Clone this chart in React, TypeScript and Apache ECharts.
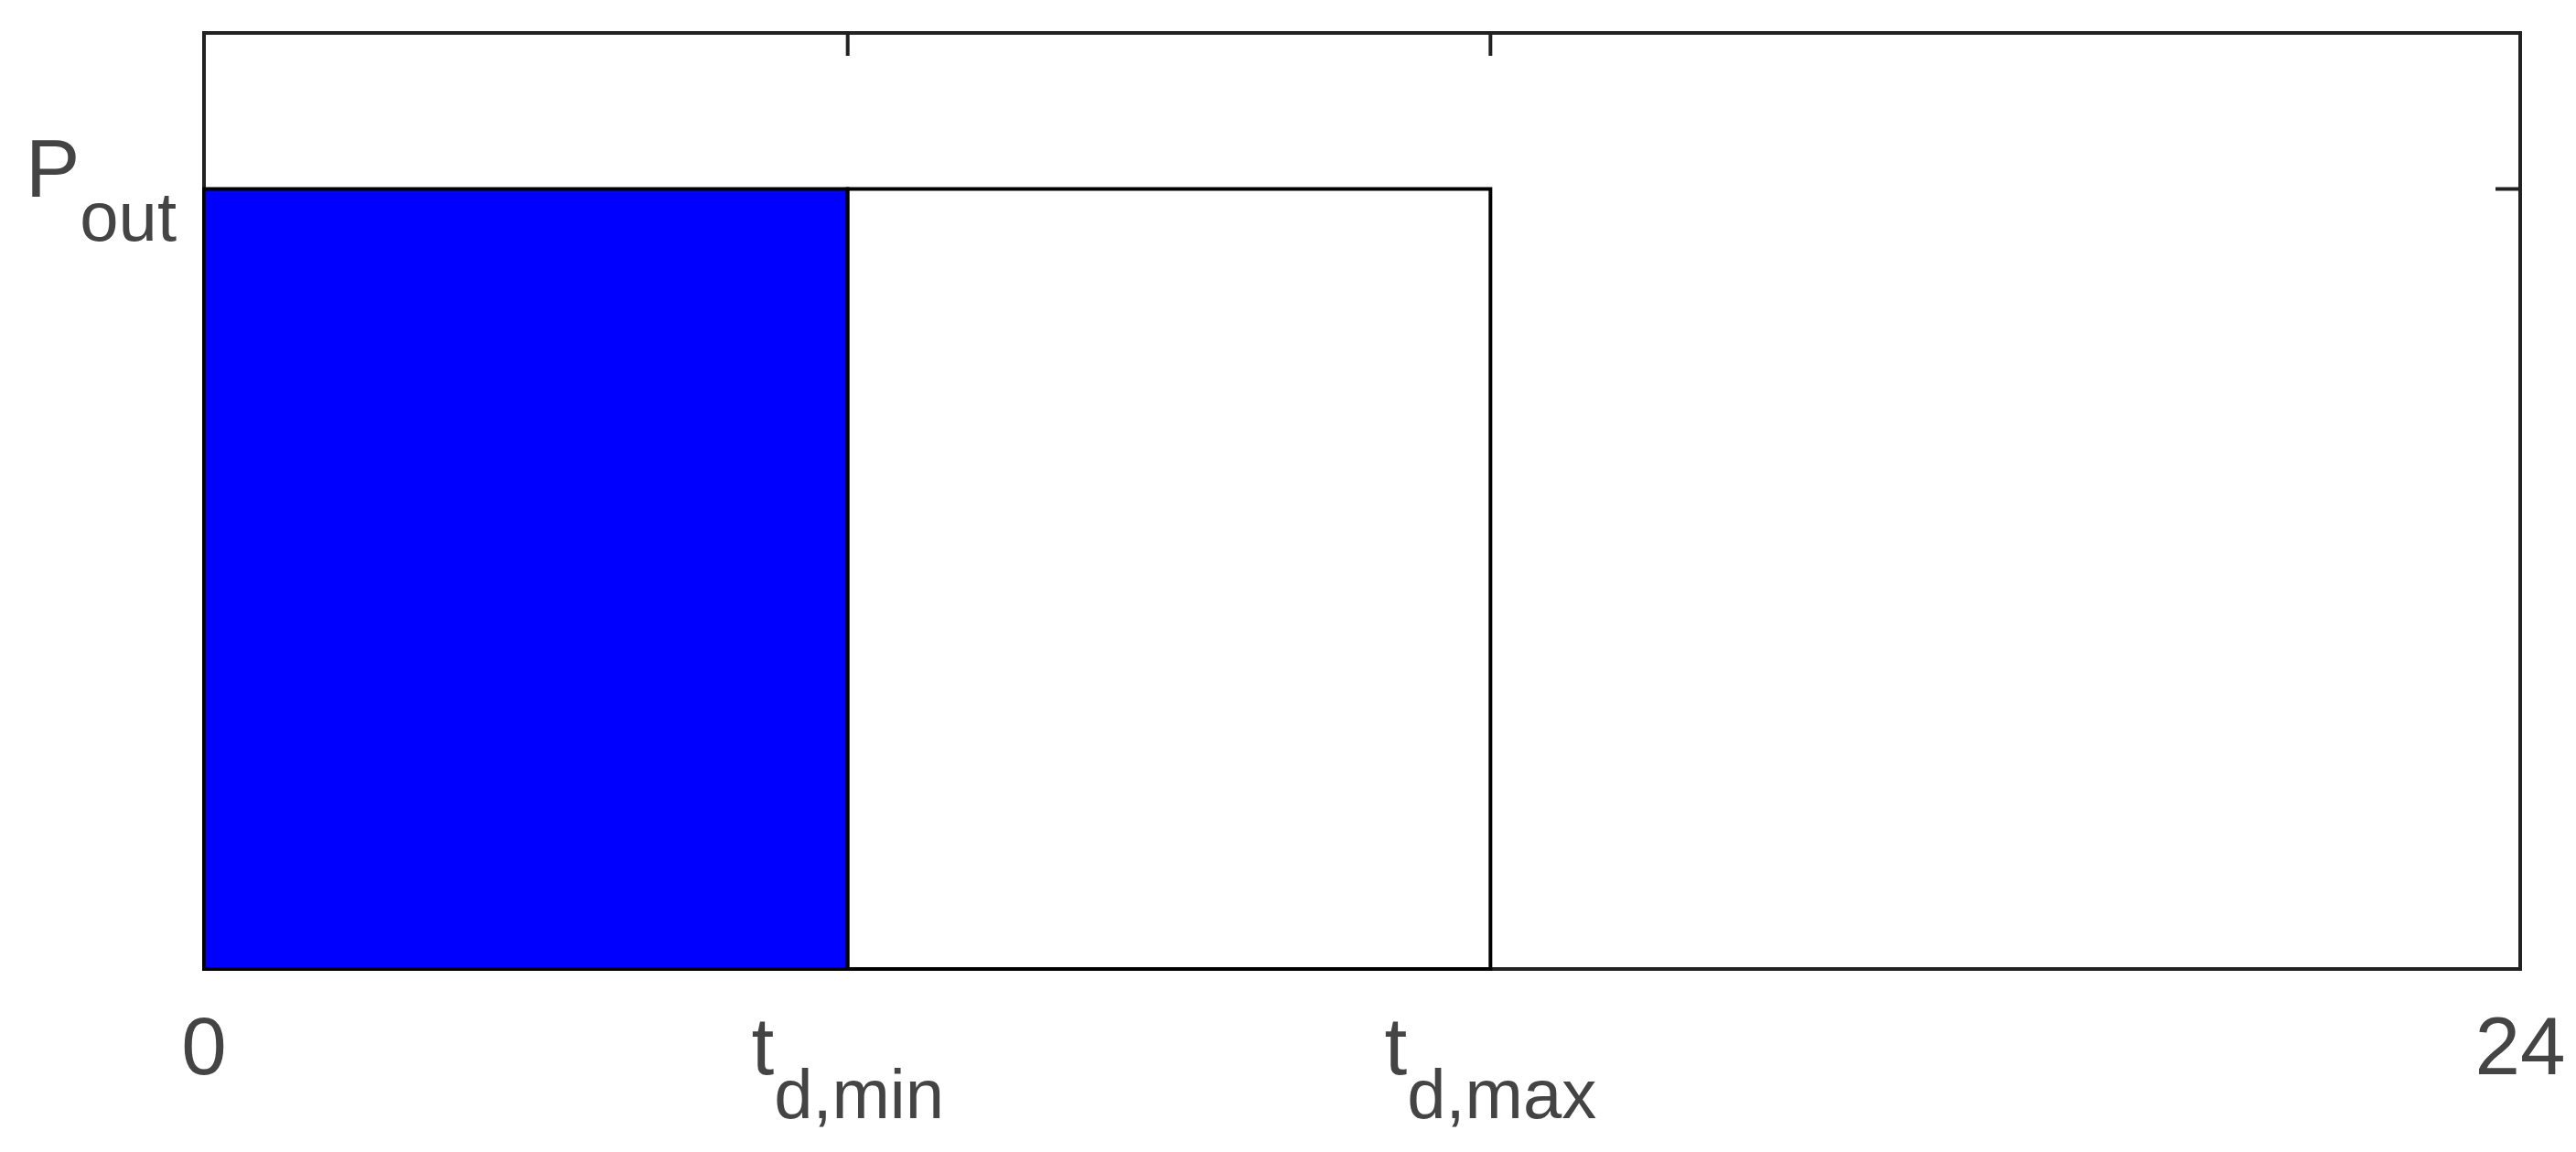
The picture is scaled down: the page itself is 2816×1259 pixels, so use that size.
import React, { useEffect, useRef } from "react";
import * as echarts from "echarts";

// axis ranges
const xMin = 0;
const xMax = 24;
const yMin = 0;
const yMax = 1.2;

// x-axis ticks (hours)
const xTickValues = [0, 6.67, 13.33, 24];
const xTickMain = ["0", "t", "t", "24"];
const xTickSub = ["", "d,min", "d,max", ""];

// y-axis tick
const yTickValues = [1];
const yTickMain = ["P"];
const yTickSub = ["out"];

// power blocks
const blockStart = [0, 6.67];
const blockEnd = [6.67, 13.33];
const blockPower = [1, 1];
const blockFill = ["#0000ff", "#ffffff"];

const FONT = "'Liberation Sans', Arial, sans-serif";
const TICK_COLOR = "#222";

function labelText(mainArr: string[], subArr: string[], vals: number[], v: number) {
  let idx = 0;
  let best = Infinity;
  vals.forEach((t, i) => {
    const d = Math.abs(t - v);
    if (d < best) {
      best = d;
      idx = i;
    }
  });
  const m = mainArr[idx];
  const s = subArr[idx];
  return s ? `{m|${m}}{s|${s}}` : `{m|${m}}`;
}

const rich = {
  m: {
    fontSize: 89,
    lineHeight: 89,
    fontFamily: FONT,
    color: "#444",
    padding: [0, 0, 46, 0],
  },
  s: {
    fontSize: 76,
    lineHeight: 76,
    fontFamily: FONT,
    color: "#444",
    padding: [59, 0, 0, 0],
  },
};

export default function App() {
  const ref = useRef<HTMLDivElement>(null);
  useEffect(() => {
    if (!ref.current) return;
    const chart = echarts.init(ref.current, null, { renderer: "svg" });
    const data = blockStart.map((s, i) => [s, blockEnd[i], blockPower[i]]);
    chart.setOption({
      animation: false,
      backgroundColor: "#ffffff",
      grid: {
        left: 223,
        right: 61,
        top: 36,
        bottom: 200,
        show: true,
        borderColor: TICK_COLOR,
        borderWidth: 4,
        backgroundColor: "transparent",
      },
      xAxis: {
        type: "value",
        min: xMin,
        max: xMax,
        position: "bottom",
        axisLine: { show: false },
        splitLine: { show: false },
        axisTick: { show: false },
        axisLabel: {
          show: true,
          customValues: xTickValues,
          margin: 62,
          formatter: (v: number) => labelText(xTickMain, xTickSub, xTickValues, v),
          rich,
        },
      },
      yAxis: {
        type: "value",
        min: yMin,
        max: yMax,
        position: "left",
        axisLine: { show: false },
        splitLine: { show: false },
        axisTick: { show: false },
        axisLabel: {
          show: true,
          customValues: yTickValues,
          margin: 30,
          formatter: (v: number) => labelText(yTickMain, yTickSub, yTickValues, v),
          rich,
        },
      },
      series: [
        {
          type: "custom",
          encode: { x: [0, 1], y: 2 },
          data,
          z: 5,
          renderItem: (params: any, api: any) => {
            const x0 = api.value(0);
            const x1 = api.value(1);
            const y = api.value(2);
            const p0 = api.coord([x0, yMin]);
            const p1 = api.coord([x1, y]);
            return {
              type: "rect",
              shape: {
                x: p0[0],
                y: p1[1],
                width: p1[0] - p0[0],
                height: p0[1] - p1[1],
              },
              style: {
                fill: blockFill[params.dataIndex],
                stroke: "#000",
                lineWidth: 4,
              },
            };
          },
        },
        {
          // top x ticks pointing inward
          type: "custom",
          encode: { x: 0 },
          data: xTickValues.map((v) => [v]),
          z: 6,
          renderItem: (params: any, api: any) => {
            const p = api.coord([api.value(0), yMax]);
            return {
              type: "line",
              shape: { x1: p[0], y1: p[1], x2: p[0], y2: p[1] + 25 },
              style: { stroke: TICK_COLOR, lineWidth: 4 },
            };
          },
        },
        {
          // right y ticks pointing inward
          type: "custom",
          encode: { y: 0 },
          data: yTickValues.map((v) => [v]),
          z: 6,
          renderItem: (params: any, api: any) => {
            const p = api.coord([xMax, api.value(0)]);
            return {
              type: "line",
              shape: { x1: p[0], y1: p[1], x2: p[0] - 27, y2: p[1] },
              style: { stroke: TICK_COLOR, lineWidth: 4 },
            };
          },
        },
      ],
    });
    return () => chart.dispose();
  }, []);
  return (
    <div
      ref={ref}
      style={{ position: "absolute", left: 0, top: 0, width: 2816, height: 1259 }}
    />
  );
}
